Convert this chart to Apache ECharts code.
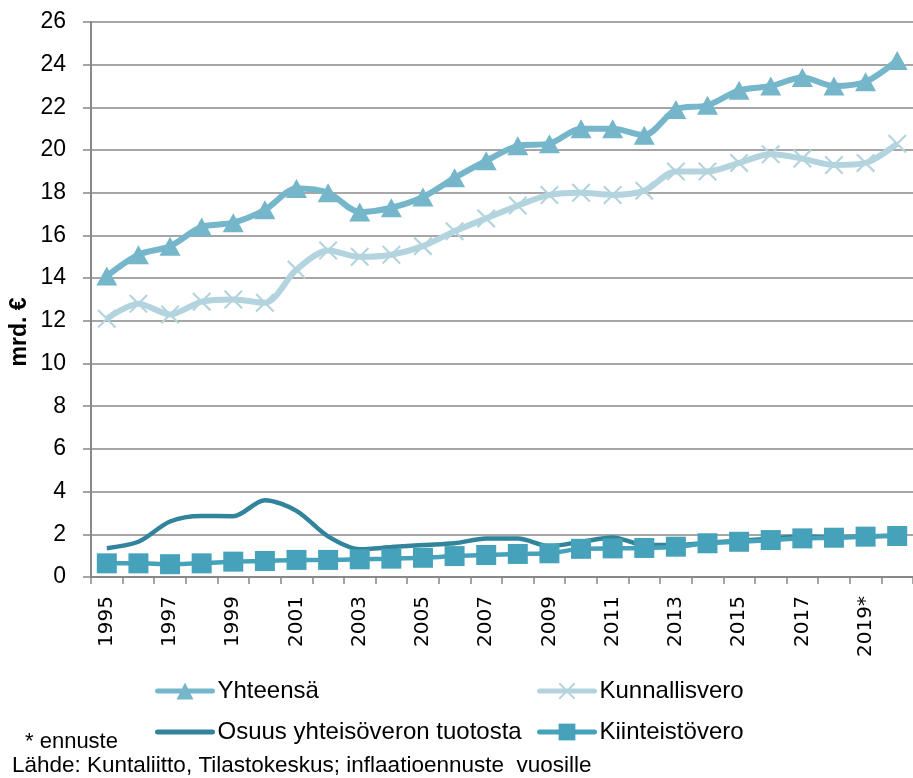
<!DOCTYPE html>
<html>
<head>
<meta charset="utf-8">
<script src="https://cdn.jsdelivr.net/npm/echarts@6/dist/echarts.min.js"></script>
<style>
html,body{margin:0;padding:0;background:#fff;}
#chart{width:913px;height:778px;}
</style>
</head>
<body>
<div id="chart"></div>
<script>
var categories = ['1995','1996','1997','1998','1999','2000','2001','2002','2003','2004','2005','2006','2007','2008','2009','2010','2011','2012','2013','2014','2015','2016','2017','2018','2019*','2020*'];
var yhteensa = [14.1,15.1,15.5,16.4,16.6,17.2,18.2,18.0,17.1,17.3,17.8,18.7,19.5,20.2,20.3,21.0,21.0,20.7,21.9,22.1,22.8,23.0,23.4,23.0,23.2,24.2];
var kunnallisvero = [12.1,12.8,12.3,12.9,13.0,12.85,14.4,15.3,15.0,15.1,15.5,16.2,16.8,17.4,17.9,18.0,17.9,18.1,19.0,19.0,19.4,19.8,19.6,19.3,19.4,20.3];
var osuus = [1.35,1.65,2.6,2.86,2.85,3.6,3.1,1.9,1.3,1.4,1.5,1.58,1.8,1.8,1.45,1.65,1.85,1.5,1.5,1.6,1.7,1.8,1.9,1.85,1.9,1.95];
var kiinteistovero = [0.64,0.64,0.6,0.64,0.72,0.75,0.8,0.8,0.83,0.86,0.9,0.98,1.03,1.08,1.11,1.32,1.34,1.36,1.42,1.58,1.65,1.73,1.81,1.84,1.89,1.92];
var seriesNames = ['Yhteensä','Kunnallisvero','Osuus yhteisöveron tuotosta','Kiinteistövero'];
var yTitle = 'mrd. €';
var note1 = '* ennuste';
var note2 = 'Lähde: Kuntaliitto, Tilastokeskus; inflaatioennuste  vuosille';

var chart = echarts.init(document.getElementById('chart'), null, {renderer:'canvas'});
var xMark = 'path://M0,0.8L0.8,0L10,9.2L9.2,10Z M9.2,0L10,0.8L0.8,10L0,9.2Z';
var legendText = {fontFamily:'Liberation Sans', fontSize:24, color:'#000'};
var colors = ['#75b6cb','#b3d4de','#31849b','#46a2ba'];
function legItem(i, hideSym){
  var it = {name:seriesNames[i], lineStyle:{width:5, color:colors[i], cap:'round'}};
  if (hideSym) it.itemStyle = {opacity:0};
  return it;
}
var option = {
  backgroundColor:'#fff',
  animation:false,
  grid:{left:91, top:22, right:-6, bottom:201, containLabel:false},
  xAxis:{
    type:'category', data:categories, boundaryGap:true,
    axisLine:{lineStyle:{color:'#888', width:2}},
    axisTick:{show:true, interval:0, length:7, lineStyle:{color:'#888', width:1.5}},
    axisLabel:{interval:1, rotate:90, margin:19, fontFamily:'DejaVu Sans', fontSize:20, color:'#000'},
    splitLine:{show:false}
  },
  yAxis:{
    type:'value', min:0, max:26, interval:2,
    axisLine:{show:true, lineStyle:{color:'#888', width:2}},
    axisTick:{show:true, length:8, lineStyle:{color:'#888', width:1.5}},
    axisLabel:{margin:25, fontFamily:'Liberation Sans', fontSize:23, color:'#000'},
    splitLine:{show:true, lineStyle:{color:'#888', width:1.5}}
  },
  legend:[
    {data:[legItem(0), legItem(2,true)], orient:'vertical', left:155, top:679, padding:0, itemWidth:55, itemHeight:21, itemGap:17, textStyle:legendText},
    {data:[legItem(1), legItem(3)], orient:'vertical', left:537, top:679, padding:0, itemWidth:55, itemHeight:21, itemGap:17, textStyle:legendText}
  ],
  series:[
    {name:seriesNames[0], type:'line', data:yhteensa, smooth:0.3, symbol:'triangle', symbolSize:[21,19],
     lineStyle:{color:colors[0], width:6}, itemStyle:{color:colors[0]}},
    {name:seriesNames[1], type:'line', data:kunnallisvero, smooth:0.3, symbol:xMark, symbolSize:[19,19],
     lineStyle:{color:colors[1], width:6}, itemStyle:{color:colors[1]}},
    {name:seriesNames[2], type:'line', data:osuus, smooth:0.3, symbol:'circle', showSymbol:false,
     lineStyle:{color:colors[2], width:4.5}, itemStyle:{color:colors[2]}},
    {name:seriesNames[3], type:'line', data:kiinteistovero, smooth:0.3, symbol:'rect', symbolSize:[20,20],
     lineStyle:{color:colors[3], width:4.5}, itemStyle:{color:colors[3]}}
  ],
  graphic:[
    {type:'text', x:20, y:332, rotation:Math.PI/2, style:{text:yTitle, fontFamily:'Liberation Sans', fontSize:23, fontWeight:'bold', fill:'#000', align:'center', verticalAlign:'middle'}},
    {type:'text', x:25, y:742, style:{text:note1, fontFamily:'Liberation Sans', fontSize:22, fill:'#000', verticalAlign:'middle'}},
    {type:'text', x:12, y:766, style:{text:note2, fontFamily:'Liberation Sans', fontSize:22.5, fill:'#000', verticalAlign:'middle'}}
  ]
};
chart.setOption(option);
</script>
</body>
</html>
